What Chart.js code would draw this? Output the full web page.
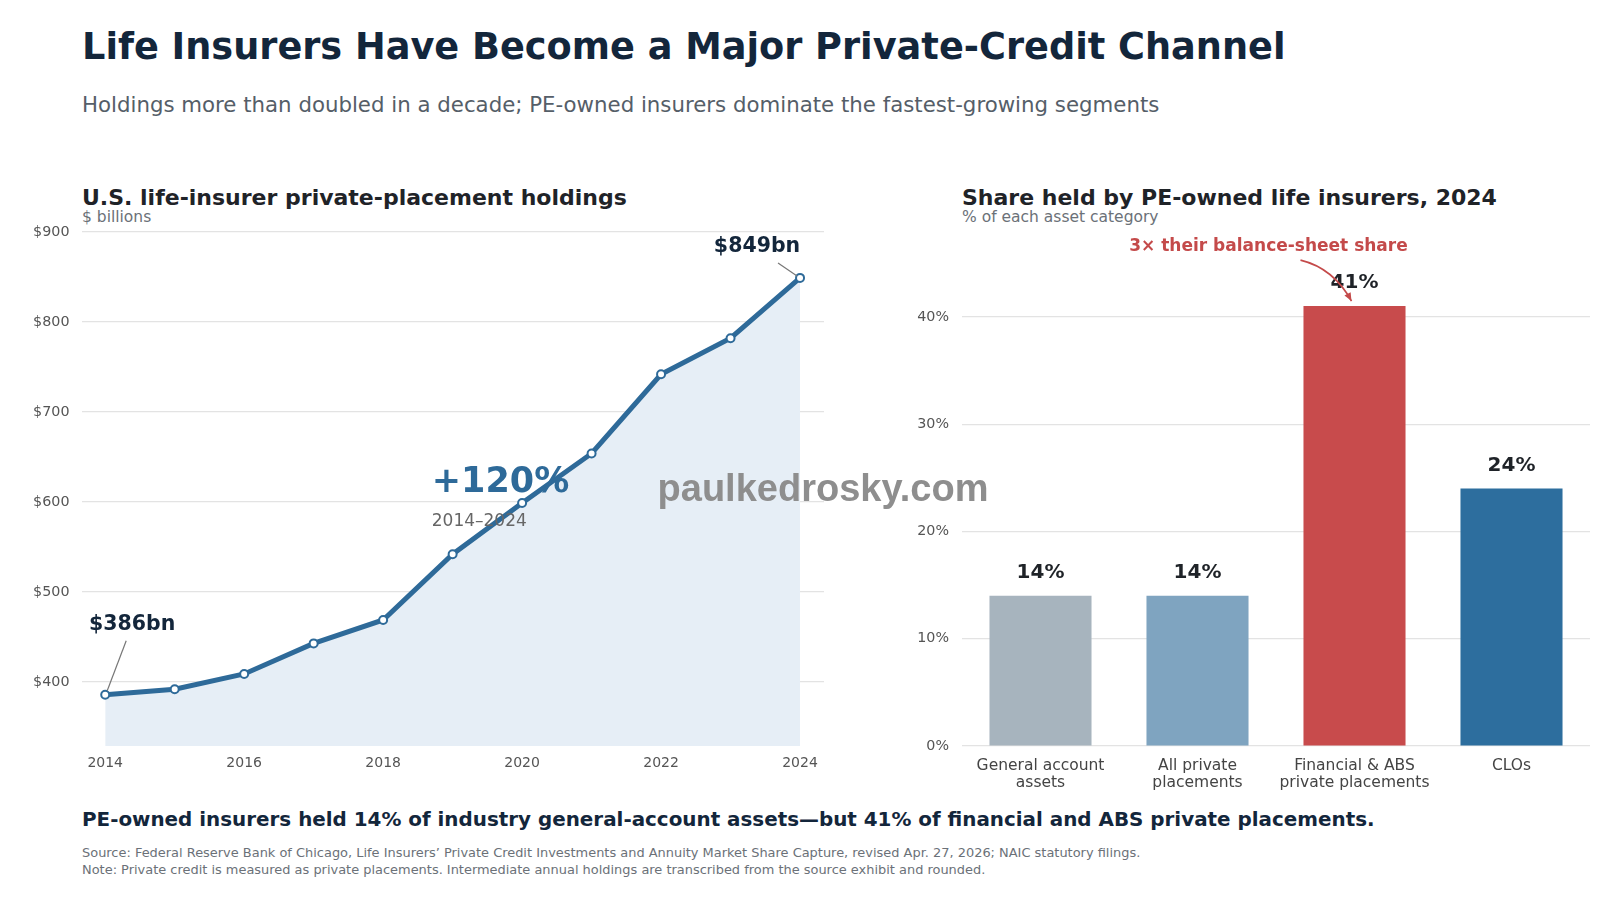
<!DOCTYPE html>
<html>
<head>
<meta charset="utf-8">
<script src="https://cdn.jsdelivr.net/npm/chart.js@4"></script>
<style>
  html, body { margin: 0; padding: 0; background: #fff; }
  body { width: 1600px; height: 899px; position: relative; overflow: hidden; font-family: "DejaVu Sans", sans-serif; }
  .t { position: absolute; white-space: nowrap; line-height: 1; }
  #title { left: 82px; top: 29px; font-size: 36.7px; font-weight: bold; color: #13263b; }
  #subtitle { left: 82px; top: 94px; font-size: 21.3px; color: #555e68; }
  .ptitle { top: 187px; font-size: 22px; font-weight: bold; color: #1f2328; }
  .punit { top: 210px; font-size: 15.5px; color: #6b7178; }
  #takeaway { left: 82px; top: 810px; font-size: 19.9px; font-weight: bold; color: #13263b; }
  .src { left: 82px; font-size: 12.94px; color: #6b7178; }
  #wm { left: 823px; top: 488px; transform: translate(-50%, -50%); font-family: "Liberation Sans", Arial, sans-serif;
        font-weight: bold; font-size: 38px; color: #8e8e8e; z-index: 5; }
  canvas { position: absolute; }
  #lineWrap { position: absolute; left: 0; top: 200px; width: 850px; height: 590px; }
  #barWrap { position: absolute; left: 900px; top: 200px; width: 700px; height: 600px; }
</style>
</head>
<body>
<div class="t" id="title">Life Insurers Have Become a Major Private-Credit Channel</div>
<div class="t" id="subtitle">Holdings more than doubled in a decade; PE-owned insurers dominate the fastest-growing segments</div>

<div class="t ptitle" style="left:82px">U.S. life-insurer private-placement holdings</div>
<div class="t punit" style="left:82px">$ billions</div>
<div class="t ptitle" style="left:962px">Share held by PE-owned life insurers, 2024</div>
<div class="t punit" style="left:962px">% of each asset category</div>

<div id="lineWrap"><canvas id="lineChart"></canvas></div>
<div id="barWrap"><canvas id="barChart"></canvas></div>

<div class="t" id="wm">paulkedrosky.com</div>

<div class="t" id="takeaway">PE-owned insurers held 14% of industry general-account assets—but 41% of financial and ABS private placements.</div>
<div class="t src" style="top:847px">Source: Federal Reserve Bank of Chicago, Life Insurers’ Private Credit Investments and Annuity Market Share Capture, revised Apr. 27, 2026; NAIC statutory filings.</div>
<div class="t src" style="top:864px">Note: Private credit is measured as private placements. Intermediate annual holdings are transcribed from the source exhibit and rounded.</div>

<script>
// data
const years = [2014, 2015, 2016, 2017, 2018, 2019, 2020, 2021, 2022, 2023, 2024];
const holdings = [386, 392, 409, 443, 469, 542, 599, 654, 742, 782, 849];
const holdingTicks = [400, 500, 600, 700, 800, 900];
const yearTicks = [2014, 2016, 2018, 2020, 2022, 2024];

const categories = [["General account", "assets"], ["All private", "placements"], ["Financial & ABS", "private placements"], ["CLOs"]];
const peShares = [14, 14, 41, 24];
const shareTicks = [0, 10, 20, 30, 40];
const barColors = ["#a7b4be", "#7fa4c0", "#c84b4c", "#2d6e9e"];

Chart.defaults.font.family = "'DejaVu Sans', sans-serif";
Chart.defaults.animation = false;
Chart.defaults.plugins.legend.display = false;
Chart.defaults.plugins.tooltip.enabled = false;

const lineBlue = "#2e6a99";

// annotations on the line chart
const lineNotes = {
  id: "lineNotes",
  afterDatasetsDraw(chart) {
    const { ctx, scales: { x, y } } = chart;
    ctx.save();
    // end point label
    const ex = x.getPixelForValue(2024), ey = y.getPixelForValue(849);
    ctx.strokeStyle = "#777"; ctx.lineWidth = 1.2;
    ctx.beginPath(); ctx.moveTo(ex - 22, ey - 15); ctx.lineTo(ex - 3, ey - 2); ctx.stroke();
    ctx.fillStyle = "#13263b"; ctx.font = "bold 20.5px 'DejaVu Sans'";
    ctx.textAlign = "center"; ctx.textBaseline = "middle";
    ctx.fillText("$849bn", ex - 43, ey - 31);
    // start point label
    const sx = x.getPixelForValue(2014), sy = y.getPixelForValue(386);
    ctx.beginPath(); ctx.moveTo(sx + 21, sy - 54); ctx.lineTo(sx + 2, sy - 4); ctx.stroke();
    ctx.fillText("$386bn", sx + 27, sy - 70);
    // growth callout
    const gx = x.getPixelForValue(2018.7), gy = y.getPixelForValue(621);
    ctx.textAlign = "left";
    ctx.fillStyle = lineBlue; ctx.font = "bold 35px 'DejaVu Sans'";
    ctx.fillText("+120%", gx, gy);
    ctx.fillStyle = "#666"; ctx.font = "17px 'DejaVu Sans'";
    ctx.fillText("2014–2024", gx, gy + 38);
    ctx.restore();
  }
};

new Chart(document.getElementById("lineChart"), {
  type: "line",
  data: {
    datasets: [{
      data: years.map((yr, i) => ({ x: yr, y: holdings[i] })),
      borderColor: lineBlue,
      borderWidth: 5,
      backgroundColor: "#e6eef6",
      fill: "start",
      tension: 0,
      pointRadius: 4,
      pointBorderWidth: 2,
      pointBackgroundColor: "#fff",
      pointBorderColor: lineBlue,
    }],
  },
  options: {
    responsive: true,
    maintainAspectRatio: false,
    layout: { padding: { top: 32, right: 26, left: 0, bottom: 0 } },
    scales: {
      x: {
        type: "linear",
        min: 2013.666,
        max: 2024.345,
        afterBuildTicks: (s) => { s.ticks = yearTicks.map((v) => ({ value: v })); },
        afterFit: (s) => { s.height = 44; },
        grid: { display: false },
        border: { display: false },
        ticks: { color: "#555", font: { size: 14 }, padding: 1, callback: (v) => String(v) },
      },
      y: {
        min: 329,
        max: 900,
        afterBuildTicks: (s) => { s.ticks = holdingTicks.map((v) => ({ value: v })); },
        afterFit: (s) => { s.width = 82; },
        grid: { color: "#e3e3e3", lineWidth: 1.2, drawTicks: false },
        border: { display: false },
        ticks: { color: "#555", font: { size: 14.3 }, padding: 12.5, callback: (v) => "$" + v },
      },
    },
  },
  plugins: [lineNotes],
});

// value labels and callout on the bar chart
const barNotes = {
  id: "barNotes",
  afterDatasetsDraw(chart) {
    const { ctx } = chart;
    const meta = chart.getDatasetMeta(0);
    ctx.save();
    ctx.fillStyle = "#1f2328"; ctx.font = "bold 20px 'DejaVu Sans'";
    ctx.textAlign = "center"; ctx.textBaseline = "middle";
    meta.data.forEach((bar, i) => {
      ctx.fillText(peShares[i] + "%", bar.x, bar.y - 23);
    });
    const hot = meta.data[2];
    ctx.fillStyle = "#c44a4a"; ctx.font = "bold 17px 'DejaVu Sans'";
    ctx.fillText("3× their balance-sheet share", hot.x - 86, hot.y - 60);
    // curved arrow
    ctx.strokeStyle = "#c44a4a"; ctx.lineWidth = 1.6;
    const x0 = hot.x - 54, y0 = hot.y - 46, x1 = hot.x - 3, y1 = hot.y - 5;
    const cx = hot.x - 21, cy = y0 + 8;
    ctx.beginPath(); ctx.moveTo(x0, y0);
    ctx.quadraticCurveTo(cx, cy, x1, y1); ctx.stroke();
    const ang = Math.atan2(y1 - cy, x1 - cx);
    ctx.beginPath();
    ctx.moveTo(x1, y1);
    ctx.lineTo(x1 - 9 * Math.cos(ang - 0.4), y1 - 9 * Math.sin(ang - 0.4));
    ctx.lineTo(x1 - 9 * Math.cos(ang + 0.4), y1 - 9 * Math.sin(ang + 0.4));
    ctx.closePath(); ctx.fillStyle = "#c44a4a"; ctx.fill();
    ctx.restore();
  }
};

new Chart(document.getElementById("barChart"), {
  type: "bar",
  data: {
    labels: categories,
    datasets: [{
      data: peShares,
      backgroundColor: barColors,
      barPercentage: 0.65,
      categoryPercentage: 1,
    }],
  },
  options: {
    responsive: true,
    maintainAspectRatio: false,
    layout: { padding: { top: 31, right: 10, left: 0, bottom: 0 } },
    scales: {
      x: {
        afterFit: (s) => { s.height = 54; },
        grid: { display: false },
        border: { display: false },
        ticks: { color: "#444", font: { size: 15.5, lineHeight: 1.12 }, padding: 3, maxRotation: 0, autoSkip: false },
      },
      y: {
        min: 0,
        max: 48,
        afterBuildTicks: (s) => { s.ticks = shareTicks.map((v) => ({ value: v })); },
        afterFit: (s) => { s.width = 62; },
        grid: { color: "#e3e3e3", lineWidth: 1.2, drawTicks: false },
        border: { display: false },
        ticks: { color: "#555", font: { size: 14.3 }, padding: 13, callback: (v) => v + "%" },
      },
    },
  },
  plugins: [barNotes],
});
</script>
</body>
</html>
